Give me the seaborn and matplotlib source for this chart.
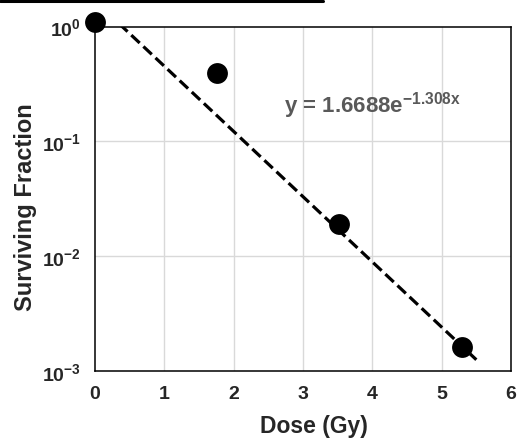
import matplotlib
matplotlib.use("Agg")
import matplotlib.pyplot as plt
from matplotlib.lines import Line2D
from matplotlib.ticker import FixedLocator, FixedFormatter
import numpy as np
import pandas as pd
import seaborn as sns

# Data
dose = [0.0, 1.76, 3.52, 5.29]
surviving_fraction = [1.1, 0.39, 0.0189, 0.00162]
fit_a = 1.6688
fit_b = -1.308
fit_x = [0.0, 5.5]
x_ticks = [0, 1, 2, 3, 4, 5, 6]
y_ticks = [1e-3, 1e-2, 1e-1, 1e0]
y_tick_labels = [r"$\mathbf{10^{-3}}$", r"$\mathbf{10^{-2}}$", r"$\mathbf{10^{-1}}$", r"$\mathbf{10^{0}}$"]
equation = r"y = 1.6688e$^{\mathbf{-1.308x}}$"

sns.set_theme(style="white")
plt.rcParams["font.family"] = ["Liberation Sans", "DejaVu Sans"]
plt.rcParams["mathtext.fontset"] = "custom"
plt.rcParams["mathtext.bf"] = "Liberation Sans:bold"
plt.rcParams["mathtext.rm"] = "Liberation Sans"
plt.rcParams["mathtext.it"] = "Liberation Sans:italic"

fig = plt.figure(figsize=(5.18, 4.39), dpi=100)
ax = fig.add_axes([95 / 518, 1 - 372 / 439, 416 / 518, 344.5 / 439])

df_pts = pd.DataFrame({"dose": dose, "sf": surviving_fraction})
fit_y = [fit_a * np.exp(fit_b * x) for x in fit_x]
df_fit = pd.DataFrame({"dose": fit_x, "sf": fit_y})

ax.set_yscale("log")
ax.set_xlim(0, 6)
ax.set_ylim(1e-3, 1)

for x in x_ticks[1:-1]:
    ax.axvline(x, color="#d9d9d9", lw=1, zorder=0)
for y in y_ticks[1:-1]:
    ax.axhline(y, color="#d9d9d9", lw=1, zorder=0)

sns.lineplot(data=df_fit, x="dose", y="sf", ax=ax, color="black", lw=2.3,
             linestyle=(0, (3.6, 1.6)), zorder=3)
sns.scatterplot(data=df_pts, x="dose", y="sf", ax=ax, color="black", s=225,
                edgecolor="black", linewidth=0, zorder=4, clip_on=False)

ax.xaxis.set_major_locator(FixedLocator(x_ticks))
ax.set_xticklabels([str(t) for t in x_ticks], fontsize=14, fontweight="bold")
ax.yaxis.set_major_locator(FixedLocator(y_ticks))
ax.yaxis.set_major_formatter(FixedFormatter(y_tick_labels))
ax.yaxis.set_minor_locator(FixedLocator([]))
ax.tick_params(axis="y", labelsize=14, length=0, pad=10)
ax.tick_params(axis="x", length=0, pad=10)

for s in ax.spines.values():
    s.set_color("black")
    s.set_linewidth(1.1)

ax.set_xlabel("Dose (Gy)", fontsize=16.5, fontweight="bold")
ax.set_ylabel("Surviving Fraction", fontsize=17, fontweight="bold")
ax.xaxis.set_label_coords(0.526, -0.125)
ax.yaxis.set_label_coords(-0.14, 0.479)

ax.text(2.72, 0.182, equation, fontsize=16, fontweight="bold", color="#595959",
        va="baseline", ha="left")

fig.add_artist(Line2D([0, 323 / 518], [1 - 1.5 / 439, 1 - 1.5 / 439],
                      color="black", lw=2.2, transform=fig.transFigure))

fig.savefig("out.png", dpi=100)
